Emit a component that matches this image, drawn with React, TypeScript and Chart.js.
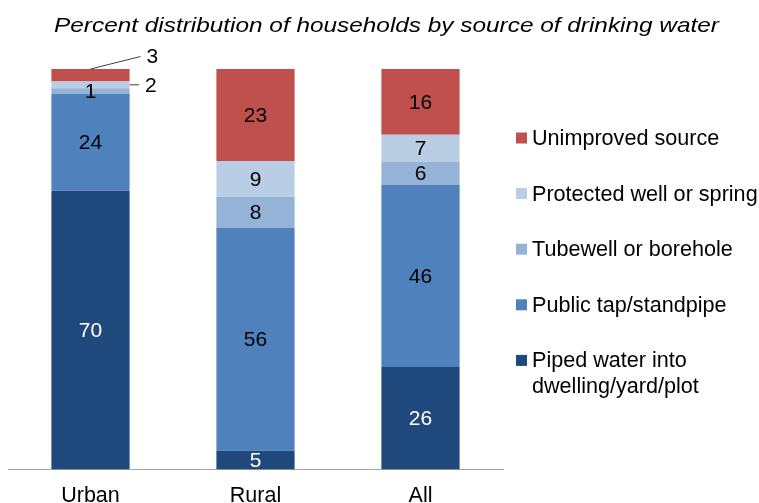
import React, { useEffect, useRef } from "react";
import { Chart, registerables } from "chart.js";

Chart.register(...registerables);

const TITLE = "Percent distribution of households by source of drinking water";
const categories = ["Urban", "Rural", "All"];
const seriesNames = [
  "Piped water into dwelling/yard/plot",
  "Public tap/standpipe",
  "Tubewell or borehole",
  "Protected well or spring",
  "Unimproved source",
];
const piped = [69.6, 4.7, 25.6];
const publicTap = [24.2, 55.6, 45.5];
const tubewell = [1.4, 7.8, 5.8];
const protectedWell = [1.7, 8.9, 6.7];
const unimproved = [3.1, 23.0, 16.4];

const seriesValues = [piped, publicTap, tubewell, protectedWell, unimproved];
const colors = ["#1F497D", "#4F81BD", "#95B3D7", "#B9CDE5", "#C0504D"];
const labelColors = ["#FFFFFF", "#000000", "#000000", "#000000", "#000000"];

const FONT = "'Liberation Sans', Arial, sans-serif";

// callouts for tiny segments: key = datasetIndex-categoryIndex
const callouts: Record<string, "top" | "side"> = {
  "4-0": "top",
  "3-0": "side",
};

const titlePlugin = {
  id: "stretchTitle",
  afterDraw(chart: any) {
    const ctx = chart.ctx;
    ctx.save();
    ctx.font = `italic 21px ${FONT}`;
    ctx.textBaseline = "alphabetic";
    ctx.textAlign = "center";
    ctx.fillStyle = "#000";
    ctx.translate(386.5, 32.3);
    ctx.scale(1.16, 1);
    ctx.fillText(TITLE, 0, 0);
    ctx.restore();
  },
};

const labelPlugin = {
  id: "segLabels",
  afterDatasetsDraw(chart: any) {
    const ctx = chart.ctx;
    ctx.save();
    ctx.font = `21px ${FONT}`;
    ctx.textBaseline = "middle";
    chart.data.datasets.forEach((ds: any, di: number) => {
      const meta = chart.getDatasetMeta(di);
      meta.data.forEach((bar: any, ci: number) => {
        const v = Math.round(ds.data[ci]);
        const key = `${di}-${ci}`;
        const mode = callouts[key];
        const top = Math.min(bar.y, bar.base);
        const bottom = Math.max(bar.y, bar.base);
        const mid = (top + bottom) / 2;
        if (mode === "top") {
          const sx = bar.x, sy = top;
          const ex = bar.x + 50, ey = top - 12.5;
          ctx.strokeStyle = "#404040";
          ctx.lineWidth = 1;
          ctx.beginPath();
          ctx.moveTo(sx, sy);
          ctx.lineTo(ex, ey);
          ctx.stroke();
          ctx.fillStyle = "#000";
          ctx.textAlign = "left";
          ctx.fillText(String(v), ex + 6, ey + 1);
        } else if (mode === "side") {
          const sx = bar.x + bar.width / 2, sy = mid;
          const ex = sx + 9.5;
          ctx.strokeStyle = "#404040";
          ctx.lineWidth = 1;
          ctx.beginPath();
          ctx.moveTo(sx, sy);
          ctx.lineTo(ex, sy);
          ctx.stroke();
          ctx.fillStyle = "#000";
          ctx.textAlign = "left";
          ctx.fillText(String(v), ex + 6, sy + 1);
        } else {
          ctx.fillStyle = labelColors[di];
          ctx.textAlign = "center";
          ctx.fillText(String(v), bar.x, mid + 1);
        }
      });
    });
    ctx.restore();
  },
};

const legendPlugin = {
  id: "sideLegend",
  afterDraw(chart: any) {
    const ctx = chart.ctx;
    ctx.save();
    ctx.font = `21.6px ${FONT}`;
    ctx.textBaseline = "middle";
    ctx.textAlign = "left";
    const n = chart.data.datasets.length;
    const x0 = 516;
    const tx = 532;
    const maxW = 759 - tx;
    for (let k = 0; k < n; k++) {
      const di = n - 1 - k;
      const ds = chart.data.datasets[di];
      const y = 138 + k * 55.6;
      ctx.fillStyle = ds.backgroundColor;
      ctx.fillRect(x0, y - 5.5, 11, 11);
      const words = String(ds.label).split(" ");
      const lines: string[] = [];
      let cur = "";
      for (const w of words) {
        const test = cur ? cur + " " + w : w;
        if (ctx.measureText(test).width > maxW && cur) {
          lines.push(cur);
          cur = w;
        } else cur = test;
      }
      if (cur) lines.push(cur);
      ctx.fillStyle = "#000";
      lines.forEach((ln, li) => ctx.fillText(ln, tx, y + 1 + li * 25.5));
    }
    ctx.restore();
  },
};

export default function App() {
  const ref = useRef<HTMLCanvasElement | null>(null);
  useEffect(() => {
    if (!ref.current) return;
    const chart = new Chart(ref.current, {
      type: "bar",
      data: {
        labels: categories,
        datasets: seriesNames.map((name, i) => ({
          label: name,
          data: seriesValues[i],
          backgroundColor: colors[i],
          borderWidth: 0,
          barPercentage: 0.474,
          categoryPercentage: 1,
        })),
      },
      options: {
        animation: false,
        responsive: false,
        maintainAspectRatio: false,
        devicePixelRatio: 1,
        layout: { padding: { left: 8, right: 256, top: 69, bottom: 0 } },
        plugins: {
          legend: { display: false },
          tooltip: { enabled: false },
          title: { display: false },
        },
        scales: {
          x: {
            stacked: true,
            grid: { display: false, drawTicks: false },
            border: { display: true, color: "#A6A6A6", width: 1 },
            ticks: {
              color: "#000",
              font: { family: FONT, size: 21.5, lineHeight: 1.2 },
              padding: 14,
            },
            afterFit: (scale: any) => {
              scale.height = 33.5;
            },
          },
          y: {
            stacked: true,
            display: false,
            min: 0,
            max: 100,
          },
        },
      },
      plugins: [labelPlugin, legendPlugin, titlePlugin],
    });
    return () => chart.destroy();
  }, []);
  return (
    <div style={{ position: "fixed", left: 0, top: 0, width: 759, height: 503, background: "#fff" }}>
      <canvas ref={ref} width={759} height={503} style={{ display: "block" }} />
    </div>
  );
}
